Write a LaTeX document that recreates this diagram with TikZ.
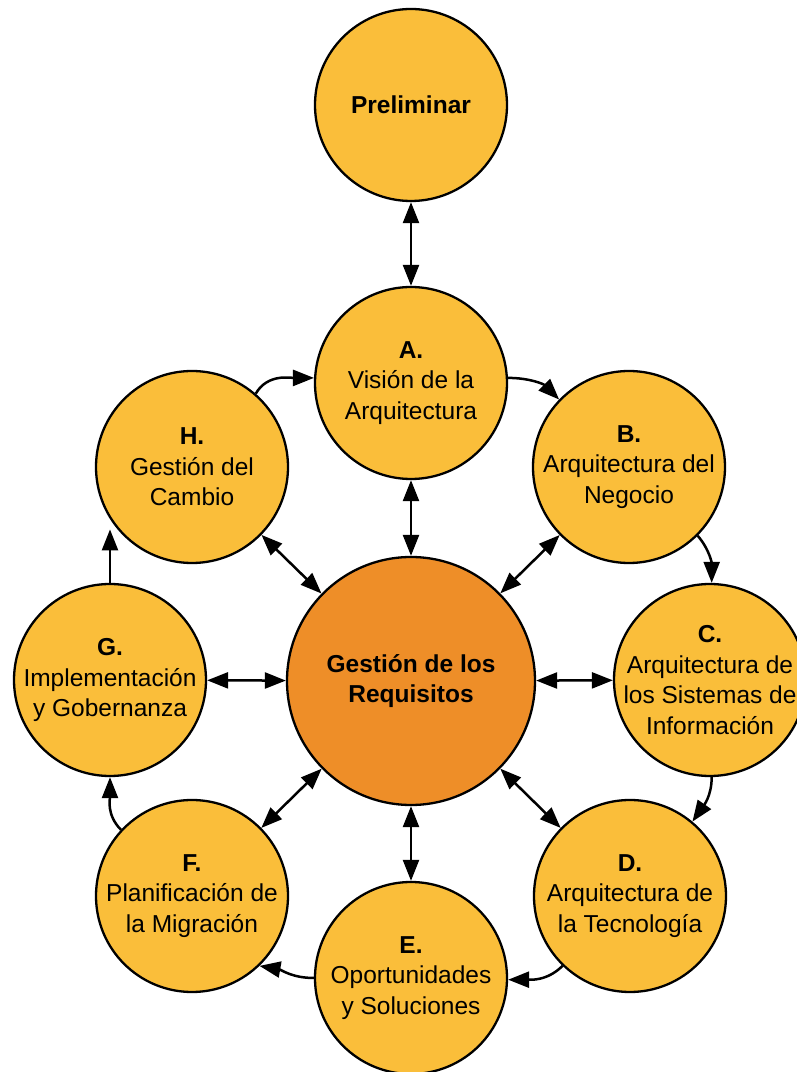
\documentclass[tikz,border=0pt]{standalone}
\usepackage{fontspec}
\setmainfont{Liberation Sans}
\usetikzlibrary{arrows.meta}
\definecolor{phasefill}{RGB}{250,190,58}
\definecolor{corefill}{RGB}{238,142,40}
\begin{document}
\begin{tikzpicture}[x=1pt,y=1pt,
  phase/.style={circle, draw=black, line width=2.3pt, fill=phasefill,
    minimum size=192pt, inner sep=0pt, align=center,
    font=\fontsize{24.5}{30.5}\selectfont},
  core/.style={phase, fill=corefill, minimum size=248pt},
  link/.style={line width=2.5pt, -{Triangle[length=21pt,width=16pt]}},
  twoway/.style={line width=2.5pt,
    {Triangle[length=21pt,width=16pt]}-{Triangle[length=21pt,width=16pt]}}
]
\clip (0,0) rectangle (797,1072);
\fill[white] (0,0) rectangle (797,1072);

% phases of the cycle
\node[phase] (P) at (411,967) {\textbf{Preliminar}};
\node[phase] (A) at (411,689) {\textbf{A.}\\Visión de la\\Arquitectura};
\node[phase] (B) at (629,605) {\textbf{B.}\\Arquitectura del\\Negocio};
% four lines of text: keep the circle at the common size
\node[phase, inner sep=-30pt] (C) at (710,392) {\textbf{C.}\\Arquitectura de\\los Sistemas de\\Información};
\node[phase] (D) at (630,176) {\textbf{D.}\\Arquitectura de\\la Tecnología};
\node[phase] (E) at (411,94) {\textbf{E.}\\Oportunidades\\y Soluciones};
\node[phase] (F) at (192,176) {\textbf{F.}\\Planificación de\\la Migración};
\node[phase] (G) at (110,392) {\textbf{G.}\\Implementación\\y Gobernanza};
\node[phase] (H) at (192,605) {\textbf{H.}\\Gestión del\\Cambio};

% requirements management in the middle
\node[core] (R) at (411,391) {\textbf{Gestión de los}\\\textbf{Requisitos}};

% links with the centre and the preliminary phase
\draw[twoway] (P) -- (A);
\foreach \n in {A,B,C,D,E,F,G,H}
  \draw[twoway] (R) -- (\n);

% the cycle A -> H
\draw[link] (A.3) to[out=0, in=135] (B.136);
\draw[link] (B.-45) to[out=-50, in=90] (C.89);
\draw[link] (C.-89) to[out=-90, in=55] (D.50);
\draw[link] (D.-134) to[out=-135, in=0] (E.-1);
\draw[link] (E.west) to[out=180, in=-10] (F.-46);
\draw[link] (F.137) to[out=135, in=-90] (G.-90);
\draw[link] (G.north) -- (G.north |- H.-140);
\draw[link] (H.49) to[out=60, in=180] (A.177);
\end{tikzpicture}
\end{document}
